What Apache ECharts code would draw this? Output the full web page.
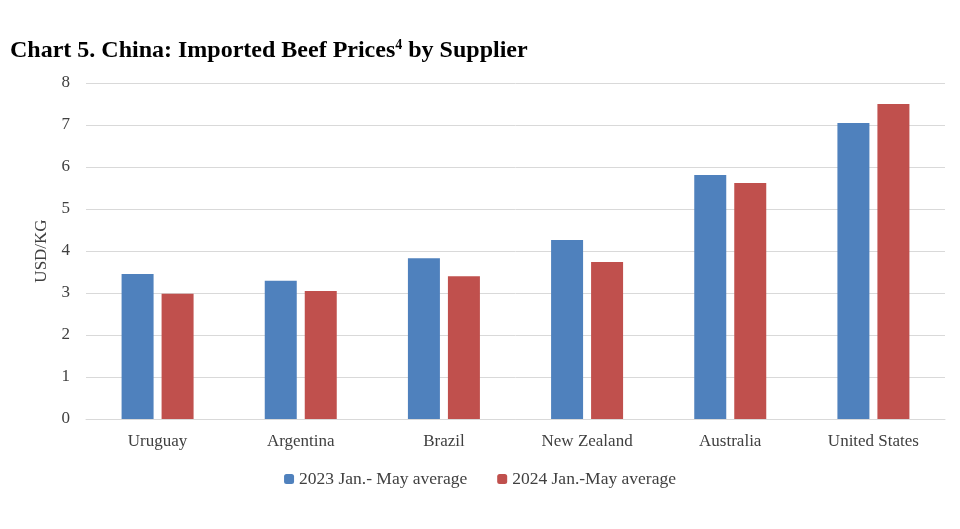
<!DOCTYPE html>
<html>
<head>
<meta charset="utf-8">
<script src="https://cdn.jsdelivr.net/npm/echarts@6/dist/echarts.min.js"></script>
<style>html,body{margin:0;padding:0;background:#fff}#chart_1{width:960px;height:529px}</style>
</head>
<body>
<div id="chart_1"></div>
<script>
var categories = ['Uruguay', 'Argentina', 'Brazil', 'New Zealand', 'Australia', 'United States'];
var avg2023 = [3.45, 3.29, 3.83, 4.26, 5.81, 7.05];
var avg2024 = [2.98, 3.05, 3.40, 3.74, 5.62, 7.50];
var seriesNames = ['2023 Jan.- May average', '2024 Jan.-May average'];

var myChart = echarts.init(document.getElementById('chart_1'));
var option = {
  animation: false,
  textStyle: { fontFamily: 'Liberation Serif' },
  title: {
    text: 'Chart 5. China: Imported Beef Prices{s|4} by Supplier',
    left: 5, top: 33,
    textStyle: {
      fontFamily: 'Liberation Serif', fontSize: 24, fontWeight: 'bold', color: '#000',
      rich: { s: { fontFamily: 'Liberation Serif', fontSize: 14, fontWeight: 'bold', verticalAlign: 'top', padding: [0, 0, 12, 0] } }
    }
  },
  legend: {
    bottom: 36, itemWidth: 10, itemHeight: 10, itemGap: 30,
    textStyle: { fontFamily: 'Liberation Serif', fontSize: 17.5, color: '#404040' },
    data: seriesNames
  },
  grid: { left: 86, right: 15, top: 83, bottom: 110 },
  xAxis: {
    type: 'category', data: categories,
    axisTick: { show: false },
    axisLine: { lineStyle: { color: '#d9d9d9' } },
    axisLabel: { fontFamily: 'Liberation Serif', fontSize: 17, color: '#404040', margin: 14 }
  },
  yAxis: {
    type: 'value', min: 0, max: 8, interval: 1,
    name: 'USD/KG', nameLocation: 'middle', nameGap: 36,
    nameTextStyle: { fontFamily: 'Liberation Serif', fontSize: 17, color: '#404040' },
    axisLabel: { fontFamily: 'Liberation Serif', fontSize: 17, color: '#404040', margin: 16 },
    splitLine: { lineStyle: { color: '#d9d9d9' } }
  },
  color: ['#4f81bd', '#c0504d'],
  series: [
    { name: seriesNames[0], type: 'bar', data: avg2023, barWidth: 32, barGap: '25%' },
    { name: seriesNames[1], type: 'bar', data: avg2024, barWidth: 32, barGap: '25%' }
  ]
};
myChart.setOption(option);
</script>
</body>
</html>
